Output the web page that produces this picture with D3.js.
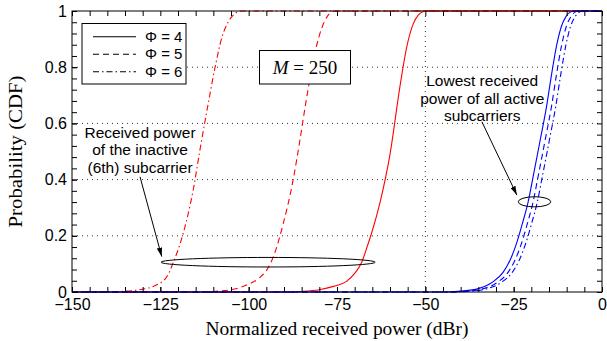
<!DOCTYPE html>
<html>
<head>
<meta charset="utf-8">
<script src="https://cdn.jsdelivr.net/npm/d3@7"></script>
<style>
  html, body { margin: 0; padding: 0; background: #fff; }
  svg { display: block; }
</style>
</head>
<body>
<svg id="chart" width="607" height="341"></svg>
<script>
// ---------------- data ----------------
const xTicks = [-150, -125, -100, -75, -50, -25, 0];
const xTickLabels = ["\u2212150", "\u2212125", "\u2212100", "\u221275", "\u221250", "\u221225", "0"];
const yTicks = [0, 0.2, 0.4, 0.6, 0.8, 1];
const yTickLabels = ["0", "0.2", "0.4", "0.6", "0.8", "1"];
const legendLabels = ["\u03A6 = 4", "\u03A6 = 5", "\u03A6 = 6"];

// inactive (6th) subcarrier, red
const inactivePhi4 = [[-150,0],[-90,0],[-85,0.002],[-80,0.008],[-76,0.02],[-72.3,0.038],[-70,0.066],[-68,0.106],[-66.5,0.16],[-65.2,0.21],[-62.8,0.32],[-60,0.49],[-57.2,0.73],[-55.3,0.87],[-53.4,0.955],[-52,0.985],[-50.5,0.998],[-49.5,1],[0,1]];
const inactivePhi5 = [[-150,0],[-115,0],[-110,0.002],[-105,0.008],[-100.6,0.025],[-97,0.05],[-94.9,0.078],[-93,0.126],[-90.2,0.244],[-87.4,0.40],[-85.5,0.54],[-84,0.66],[-82.5,0.77],[-81,0.865],[-79.3,0.94],[-77.8,0.98],[-76.5,0.997],[-75.5,1],[0,1]];
const inactivePhi6 = [[-150,0],[-140,0],[-136,0.002],[-130,0.01],[-127,0.02],[-123.2,0.054],[-121.3,0.106],[-118.5,0.21],[-115.7,0.363],[-113.8,0.505],[-111.6,0.66],[-109.5,0.80],[-107.6,0.905],[-105.6,0.965],[-104,0.99],[-102.5,0.999],[-101.5,1],[0,1]];

// lowest active subcarrier, blue
const activePhi4 = [[-150,0],[-45,0],[-40,0.003],[-35,0.012],[-31,0.035],[-28,0.07],[-26,0.114],[-24,0.18],[-22.5,0.245],[-21,0.315],[-19.5,0.41],[-17.5,0.54],[-15.7,0.66],[-14.2,0.78],[-12.8,0.88],[-11.5,0.945],[-10.2,0.98],[-9,0.996],[-7.8,1],[0,1]];
const activePhi5 = [[-150,0],[-43,0],[-38,0.003],[-33.5,0.012],[-29.5,0.035],[-26.6,0.07],[-24.6,0.114],[-22.6,0.18],[-21.1,0.245],[-19.6,0.315],[-18.1,0.41],[-16.1,0.54],[-14.3,0.66],[-12.8,0.78],[-11.4,0.88],[-10.1,0.945],[-8.8,0.98],[-7.6,0.996],[-6.4,1],[0,1]];
const activePhi6 = [[-150,0],[-42,0],[-37,0.003],[-32.4,0.012],[-28.4,0.035],[-25.4,0.07],[-23.4,0.114],[-21.4,0.18],[-19.9,0.245],[-18.4,0.315],[-16.9,0.41],[-14.9,0.54],[-13.1,0.66],[-11.6,0.78],[-10.2,0.88],[-8.9,0.945],[-7.6,0.98],[-6.4,0.996],[-5.2,1],[0,1]];

// ---------------- layout ----------------
const svg = d3.select("#chart");
const L = 72, R = 602, T = 11, B = 292;
const x = d3.scaleLinear().domain([-150, 0]).range([L, R]);
const y = d3.scaleLinear().domain([0, 1]).range([B, T]);

const sans = "'Liberation Sans', Arial, Helvetica, sans-serif";
const serif = "'Liberation Serif', 'Times New Roman', serif";

const dashStyles = { solid: null, dashed: "6,4", dashdot: "6,3,1.5,3" };

// grid
const grid = svg.append("g").attr("stroke", "#000").attr("stroke-width", 0.8).attr("stroke-dasharray", "1,4");
[0.2, 0.4, 0.6, 0.8].forEach(v => {
  grid.append("line").attr("x1", L).attr("x2", R).attr("y1", y(v)).attr("y2", y(v));
});
[-50].forEach(v => {
  grid.append("line").attr("x1", x(v)).attr("x2", x(v)).attr("y1", T).attr("y2", B);
});

// curves
const line = d3.line().x(d => x(d[0])).y(d => y(d[1])).curve(d3.curveMonotoneX);
const series = [
  { data: inactivePhi4, color: "#ff0000", dash: dashStyles.solid },
  { data: inactivePhi5, color: "#ff0000", dash: dashStyles.dashed },
  { data: inactivePhi6, color: "#ff0000", dash: dashStyles.dashdot },
  { data: activePhi6, color: "#0000ff", dash: dashStyles.dashdot },
  { data: activePhi5, color: "#0000ff", dash: dashStyles.dashed },
  { data: activePhi4, color: "#0000ff", dash: dashStyles.solid }
];
series.forEach(s => {
  svg.append("path").datum(s.data)
    .attr("d", line)
    .attr("fill", "none")
    .attr("stroke", s.color)
    .attr("stroke-width", 1.1)
    .attr("stroke-dasharray", s.dash);
});

// axes (ticks inward on all sides)
const xMinor = d3.range(-150, 1, 5);
const yMinor = d3.range(0, 1.0001, 0.04).map(v => +v.toFixed(2));
function styleAxis(g) {
  g.attr("font-size", 16).attr("font-family", sans);
  g.select(".domain").remove();
  g.selectAll("line").attr("stroke", "#000");
  g.selectAll("text").attr("font-family", sans).attr("font-size", 16).attr("fill", "#000");
}
svg.append("g").attr("transform", `translate(0,${B})`)
  .call(d3.axisBottom(x).tickValues(xMinor).tickSize(-5).tickFormat(""))
  .call(styleAxis);
svg.append("g").attr("transform", `translate(0,${B})`)
  .call(d3.axisBottom(x).tickValues(xTicks).tickSize(-5).tickPadding(7).tickFormat((d, i) => xTickLabels[i]))
  .call(styleAxis);
svg.append("g").attr("transform", `translate(0,${T})`)
  .call(d3.axisTop(x).tickValues(xMinor).tickSize(-5).tickFormat(""))
  .call(styleAxis);
svg.append("g").attr("transform", `translate(${L},0)`)
  .call(d3.axisLeft(y).tickValues(yMinor).tickSize(-5).tickFormat(""))
  .call(styleAxis);
svg.append("g").attr("transform", `translate(${L},0)`)
  .call(d3.axisLeft(y).tickValues(yTicks).tickSize(-5).tickPadding(5).tickFormat((d, i) => yTickLabels[i]))
  .call(styleAxis);
svg.append("g").attr("transform", `translate(${R},0)`)
  .call(d3.axisRight(y).tickValues(yMinor).tickSize(-5).tickFormat(""))
  .call(styleAxis);

// frame
svg.append("rect").attr("x", L).attr("y", T).attr("width", R - L).attr("height", B - T)
  .attr("fill", "none").attr("stroke", "#000").attr("stroke-width", 1);

// axis titles
svg.append("text").attr("x", (L + R) / 2).attr("y", 335)
  .attr("text-anchor", "middle").attr("font-family", serif).attr("font-size", 18)
  .attr("textLength", 263).attr("lengthAdjust", "spacingAndGlyphs")
  .text("Normalized received power (dBr)");
svg.append("text").attr("transform", `translate(22,${(T + B) / 2}) rotate(-90)`)
  .attr("text-anchor", "middle").attr("font-family", serif).attr("font-size", 18)
  .attr("textLength", 152).attr("lengthAdjust", "spacingAndGlyphs")
  .text("Probability (CDF)");

// legend
const lg = svg.append("g");
lg.append("rect").attr("x", 82).attr("y", 23.5).attr("width", 104).attr("height", 60.5)
  .attr("fill", "#fff").attr("stroke", "#000").attr("stroke-width", 1);
const legDash = [dashStyles.solid, dashStyles.dashed, dashStyles.dashdot];
legendLabels.forEach((lab, i) => {
  const ly = 36.7 + i * 17.5;
  lg.append("line").attr("x1", 93).attr("x2", 136).attr("y1", ly).attr("y2", ly)
    .attr("stroke", "#000").attr("stroke-width", 1.1).attr("stroke-dasharray", legDash[i]);
  lg.append("text").attr("x", 145).attr("y", ly + 5).attr("font-family", sans).attr("font-size", 15)
    .text(lab);
});

// M = 250 box
const mb = svg.append("g");
mb.append("rect").attr("x", 259.5).attr("y", 50.5).attr("width", 91).attr("height", 33.5)
  .attr("fill", "#fff").attr("stroke", "#000").attr("stroke-width", 1);
const mt = mb.append("text").attr("x", 305).attr("y", 73.5).attr("text-anchor", "middle")
  .attr("font-family", serif).attr("font-size", 19);
mt.append("tspan").attr("font-style", "italic").text("M");
mt.append("tspan").text(" = 250");

// ellipses
const ellipses = [
  { cx: -94.5, cy: 0.106, rxDb: 30.3, ryP: 0.017 },
  { cx: -19.1, cy: 0.321, rxDb: 4.6, ryP: 0.018 }
];
ellipses.forEach(e => {
  svg.append("ellipse").attr("cx", x(e.cx)).attr("cy", y(e.cy))
    .attr("rx", x(e.cx + e.rxDb) - x(e.cx)).attr("ry", y(0) - y(e.ryP))
    .attr("fill", "none").attr("stroke", "#000").attr("stroke-width", 1);
});

// arrows
svg.append("defs").append("marker").attr("id", "ah")
  .attr("viewBox", "0 0 10 6").attr("refX", 10).attr("refY", 3)
  .attr("markerWidth", 9).attr("markerHeight", 5.4).attr("markerUnits", "userSpaceOnUse")
  .attr("orient", "auto")
  .append("path").attr("d", "M0,0 L10,3 L0,6 Z").attr("fill", "#000");
const arrows = [
  { x1: -130.75, y1: 0.41, x2: -124.6, y2: 0.126 },
  { x1: -34.0, y1: 0.606, x2: -24.1, y2: 0.345 }
];
arrows.forEach(a => {
  svg.append("line").attr("x1", x(a.x1)).attr("y1", y(a.y1)).attr("x2", x(a.x2)).attr("y2", y(a.y2))
    .attr("stroke", "#000").attr("stroke-width", 1).attr("marker-end", "url(#ah)");
});

// annotation texts
const notes = [
  { x: -130.75, lines: ["Received power", "of the inactive", "(6th) subcarrier"], y0: 137.5 },
  { x: -33.9, lines: ["Lowest received", "power of all active", "subcarriers"], y0: 86 }
];
notes.forEach(n => {
  n.lines.forEach((t, i) => {
    svg.append("text").attr("x", x(n.x)).attr("y", n.y0 + i * 17.5)
      .attr("text-anchor", "middle").attr("font-family", sans).attr("font-size", 15.5)
      .text(t);
  });
});
</script>
</body>
</html>
